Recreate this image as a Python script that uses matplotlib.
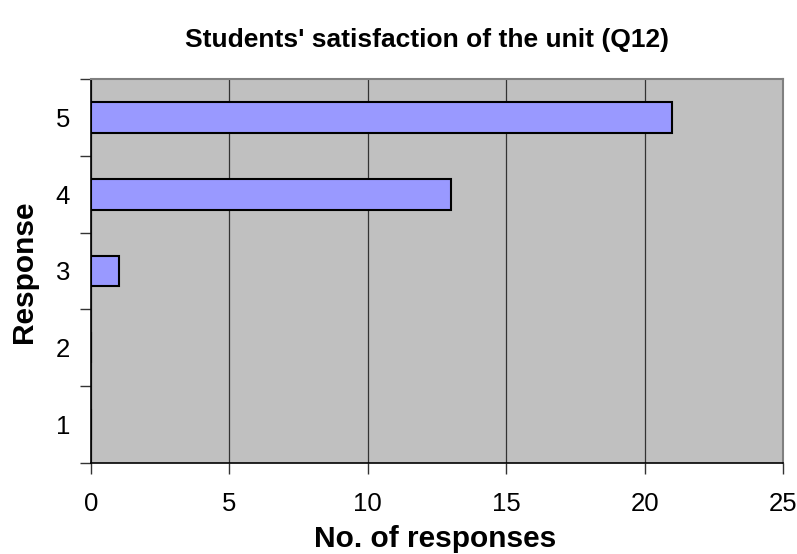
import numpy as np
from matplotlib import pyplot as plt

# Data
responses = [1, 2, 3, 4, 5]
counts = [0, 0, 1, 13, 21]
xticks = [0, 5, 10, 15, 20, 25]

plt.rcParams['font.family'] = ['Liberation Sans', 'DejaVu Sans']

fig = plt.figure(figsize=(7.97, 5.54), dpi=100)
ax = fig.add_axes([91/797, 1 - 463/554, (783 - 91)/797, (463 - 79)/554])
ax.set_facecolor('#C0C0C0')

ax.barh(responses, counts, height=0.4, color='#9999FF', edgecolor='black', linewidth=1.5, zorder=3)

ax.set_xlim(0, 25)
ax.set_ylim(0.5, 5.5)
ax.set_xticks(xticks)
ax.xaxis.grid(True, color='#333333', linewidth=0.9, zorder=1)

# tick marks on category boundaries, labels on centres
ax.set_yticks(np.arange(0.5, 5.6, 1.0))
ax.set_yticklabels([])
ax.set_yticks(responses, minor=True)
ax.set_yticklabels([str(r) for r in responses], minor=True)
ax.tick_params(axis='y', which='minor', length=0, labelsize=18.5, pad=15)
ax.tick_params(axis='y', which='major', length=8, width=1, color='#333333')
ax.tick_params(axis='x', length=8, width=1, color='#333333', labelsize=18.5, pad=13)

for s in ['left', 'bottom']:
    ax.spines[s].set_color('black')
    ax.spines[s].set_linewidth(1.2)
for s in ['top', 'right']:
    ax.spines[s].set_color('#808080')
    ax.spines[s].set_linewidth(1.5)

fig.text(427/797, 1 - 40/554, "Students' satisfaction of the unit (Q12)", ha='center', va='center',
         fontsize=19, fontweight='bold')
fig.text(435/797, 1 - 539/554, 'No. of responses', ha='center', va='center',
         fontsize=21.5, fontweight='bold')
fig.text(24/797, 1 - 272/554, 'Response', ha='center', va='center', rotation=90,
         fontsize=21.5, fontweight='bold')

plt.savefig('out.png', dpi=100)
